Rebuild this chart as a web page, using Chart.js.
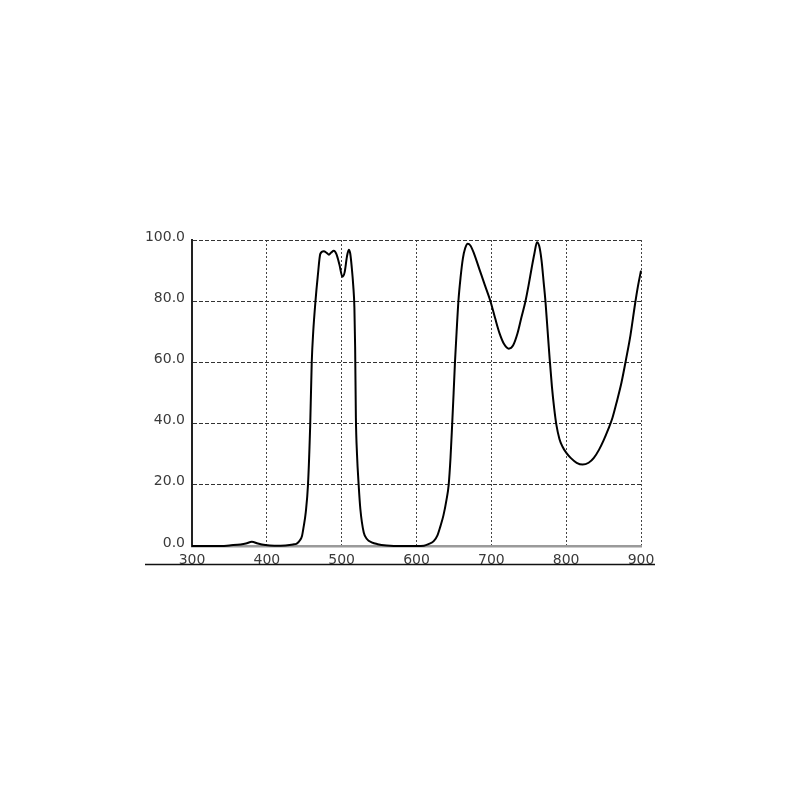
<!DOCTYPE html>
<html>
<head>
<meta charset="utf-8">
<script src="https://cdn.jsdelivr.net/npm/chart.js@4/dist/chart.umd.min.js"></script>
<style>
  html, body { margin: 0; padding: 0; background: #ffffff; }
  #wrap { width: 800px; height: 800px; position: relative; }
</style>
</head>
<body>
<div id="wrap"><canvas id="c" width="800" height="800"></canvas></div>
<script>
// Wavelength (nm) and transmission (%)
const wavelengths = [
  300, 340, 350, 365, 372, 380, 388, 398, 410, 425, 435, 440, 444, 447, 449,
  452, 455, 458, 460, 462, 465, 468, 471.5, 476, 480, 483, 486, 489.5, 493,
  497, 501, 504, 507, 509.5, 511.5, 513.5, 515.5, 517, 518, 519, 520.5, 522.7,
  525, 529.5, 534, 540, 548, 560, 580, 600, 610, 616, 623, 628, 632, 636,
  640, 643, 645.5, 647.7, 649.6, 651.4, 653.6, 656, 659, 662, 665, 668.5,
  672, 677, 684, 691, 698.8, 705, 711, 717, 723.3, 729, 735, 740, 745.6, 750,
  754, 757.5, 761, 764, 767, 770, 772.3, 775, 778, 781, 784, 787, 791,
  795, 800, 806, 814, 822, 830, 837, 844, 850, 856, 862, 868, 874,
  880, 886, 892, 896, 900
];
const transmission = [
  0, 0, 0.2, 0.5, 0.8, 1.4, 0.8, 0.3, 0.1, 0.2, 0.5, 0.8, 1.8, 3.3, 6,
  11, 20, 40, 60, 70, 80, 88, 95.5, 96.3, 95.8, 95.2, 95.9, 96.5, 95.4,
  92, 88, 89.5, 94.5, 96.8, 95.5, 91, 85, 78, 65, 42, 30, 20,
  12, 4.4, 2.2, 1.2, 0.6, 0.2, 0, 0, 0.1, 0.6, 1.6, 3.5, 6.5, 10,
  15, 20, 29, 40, 50, 60, 70, 80, 88, 94, 97.3, 98.8,
  98.2, 95.5, 90.5, 85.5, 80, 74.5, 69.5, 66, 64.5, 65.5, 69.5, 74.5, 80, 85.5,
  91, 95.5, 99.3, 98, 93.5, 86, 80, 71, 61, 52, 45, 39.5, 35,
  32.5, 30.5, 28.8, 27.2, 26.6, 27.2, 28.8, 31.5, 34.5, 38, 42, 47.5, 53.5,
  61, 69, 79, 85, 90
];
const xTicks = [300, 400, 500, 600, 700, 800, 900];
const yTicks = [0, 20, 40, 60, 80, 100];

const points = wavelengths.map((w, i) => ({ x: w, y: transmission[i] }));

const baseRule = {
  id: 'baseRule',
  afterDraw(chart) {
    const a = chart.chartArea;
    const ctx = chart.ctx;
    ctx.save();
    ctx.strokeStyle = '#111';
    ctx.lineWidth = 1.5;
    ctx.beginPath();
    ctx.moveTo(a.left - 47, a.bottom + 18.5);
    ctx.lineTo(a.right + 14, a.bottom + 18.5);
    ctx.stroke();
    ctx.restore();
  }
};

new Chart(document.getElementById('c'), {
  type: 'line',
  data: {
    datasets: [{
      data: points,
      borderColor: '#000000',
      borderWidth: 2,
      pointRadius: 0,
      fill: false,
      cubicInterpolationMode: 'monotone',
      clip: 4
    }]
  },
  options: {
    responsive: false,
    animation: false,
    devicePixelRatio: 1,
    plugins: { legend: { display: false }, tooltip: { enabled: false } },
    layout: { padding: { top: 240, right: 159, bottom: 0, left: 0 } },
    scales: {
      x: {
        type: 'linear',
        min: xTicks[0],
        max: xTicks[xTicks.length - 1],
        afterBuildTicks(scale) { scale.ticks = xTicks.map(v => ({ value: v })); },
        afterFit(scale) { scale.height = 254; },
        grid: { color: '#444', lineWidth: 1, drawTicks: false },
        border: { display: true, color: '#9a9a9a', width: 2.5, dash: [2, 2] },
        ticks: {
          padding: 6,
          color: '#3a3a3a',
          font: { family: 'DejaVu Sans', size: 14 },
          maxRotation: 0,
          callback: v => String(v)
        }
      },
      y: {
        min: yTicks[0],
        max: yTicks[yTicks.length - 1],
        afterBuildTicks(scale) { scale.ticks = yTicks.map(v => ({ value: v })); },
        afterFit(scale) { scale.width = 192; },
        grid: { color: '#333', lineWidth: 1, drawTicks: false },
        border: { display: true, color: '#222', width: 2, dash: [4, 2] },
        ticks: {
          padding: 7,
          labelOffset: -3,
          color: '#3a3a3a',
          font: { family: 'DejaVu Sans', size: 14 },
          callback: v => Number(v).toFixed(1)
        }
      }
    }
  },
  plugins: [baseRule]
});
</script>
</body>
</html>
